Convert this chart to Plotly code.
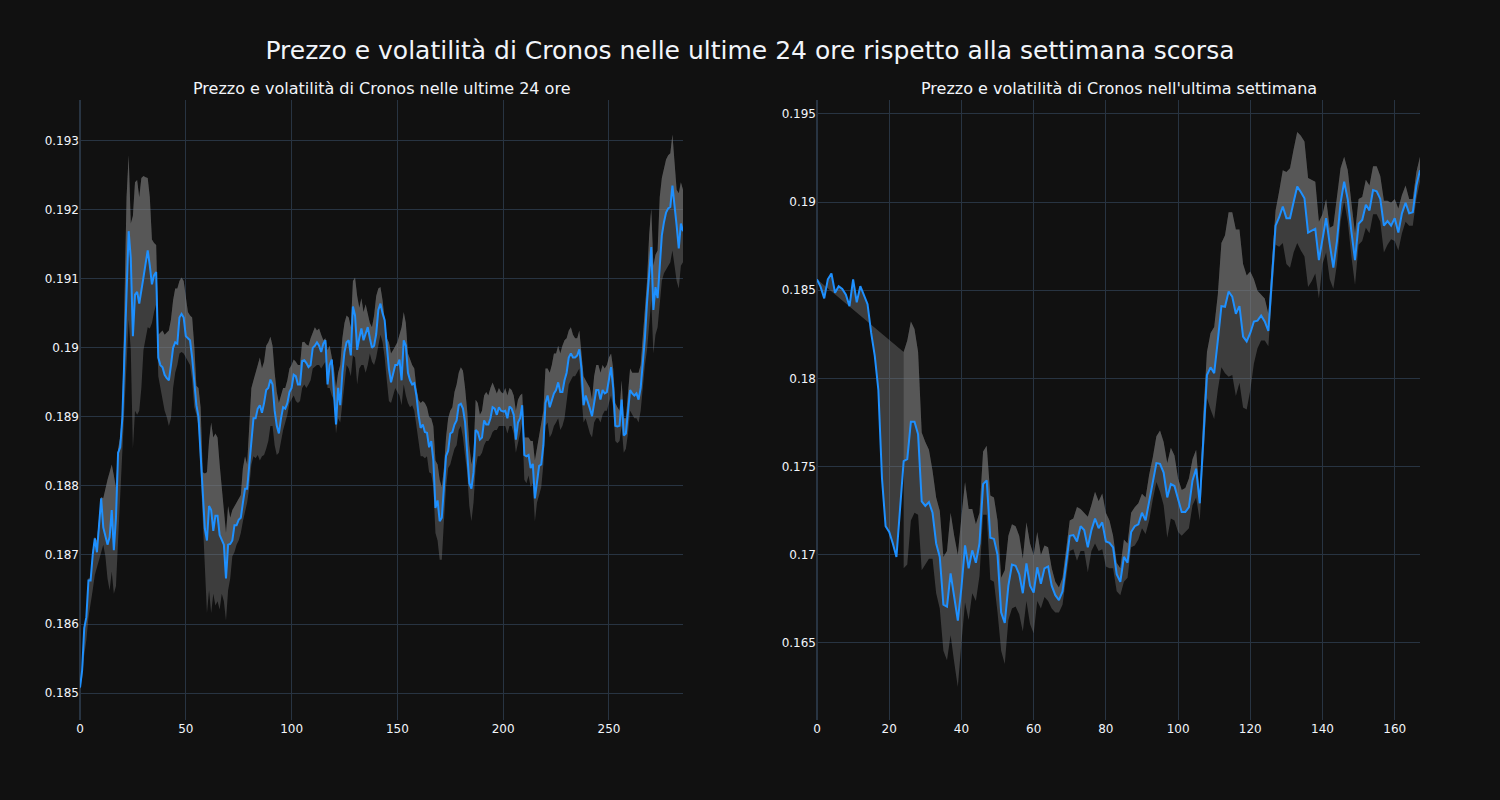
import plotly.graph_objects as go
from plotly.subplots import make_subplots

# Prezzo (ultime 24 ore, intervalli di 5 minuti) e banda di volatilita'
prezzo_24h = [
    0.18508, 0.18533, 0.18594, 0.18610, 0.18663, 0.18663, 0.18700, 0.18724, 0.18704, 0.18743,
    0.18782, 0.18740, 0.18729, 0.18715, 0.18726, 0.18765, 0.18707, 0.18754, 0.18848, 0.18856,
    0.18898, 0.18997, 0.19080, 0.19169, 0.19130, 0.19017, 0.19077, 0.19081, 0.19064, 0.19086,
    0.19102, 0.19122, 0.19141, 0.19119, 0.19092, 0.19105, 0.19110, 0.18986, 0.18975, 0.18972,
    0.18961, 0.18956, 0.18953, 0.18975, 0.19000, 0.19008, 0.19006, 0.19044, 0.19049, 0.19044,
    0.19017, 0.19014, 0.19011, 0.18986, 0.18947, 0.18917, 0.18900, 0.18848, 0.18787, 0.18738,
    0.18721, 0.18771, 0.18765, 0.18735, 0.18757, 0.18757, 0.18729, 0.18721, 0.18715, 0.18666,
    0.18715, 0.18716, 0.18721, 0.18743, 0.18743, 0.18751, 0.18754, 0.18776, 0.18796, 0.18796,
    0.18831, 0.18870, 0.18898, 0.18898, 0.18912, 0.18917, 0.18906, 0.18920, 0.18939, 0.18942,
    0.18954, 0.18947, 0.18909, 0.18887, 0.18876, 0.18898, 0.18914, 0.18912, 0.18920, 0.18936,
    0.18942, 0.18961, 0.18959, 0.18947, 0.18947, 0.18981, 0.18982, 0.18978, 0.18972, 0.18975,
    0.19000, 0.19003, 0.19008, 0.19003, 0.18994, 0.19006, 0.19011, 0.18947, 0.18975, 0.18983,
    0.18942, 0.18889, 0.18942, 0.18917, 0.18964, 0.18994, 0.19008, 0.19011, 0.18989, 0.19060,
    0.19047, 0.18997, 0.19014, 0.19028, 0.19011, 0.19019, 0.19030, 0.19014, 0.19000, 0.19003,
    0.19020, 0.19055, 0.19064, 0.19050, 0.19040, 0.19003, 0.18970, 0.18950, 0.18964, 0.18975,
    0.18975, 0.18983, 0.18953, 0.19011, 0.19003, 0.18964, 0.18953, 0.18947, 0.18949, 0.18931,
    0.18903, 0.18884, 0.18889, 0.18878, 0.18877, 0.18856, 0.18865, 0.18837, 0.18768, 0.18779,
    0.18749, 0.18754, 0.18798, 0.18843, 0.18851, 0.18876, 0.18878, 0.18889, 0.18895, 0.18917,
    0.18919, 0.18912, 0.18892, 0.18854, 0.18804, 0.18796, 0.18820, 0.18881, 0.18878, 0.18867,
    0.18870, 0.18895, 0.18889, 0.18889, 0.18898, 0.18914, 0.18912, 0.18903, 0.18914, 0.18909,
    0.18908, 0.18909, 0.18898, 0.18915, 0.18912, 0.18903, 0.18867, 0.18892, 0.18898, 0.18917,
    0.18845, 0.18843, 0.18845, 0.18826, 0.18832, 0.18782, 0.18804, 0.18829, 0.18831, 0.18859,
    0.18920, 0.18931, 0.18914, 0.18923, 0.18934, 0.18939, 0.18950, 0.18936, 0.18936, 0.18953,
    0.18964, 0.18986, 0.18992, 0.18986, 0.18986, 0.18989, 0.18998, 0.18970, 0.18917, 0.18931,
    0.18923, 0.18912, 0.18901, 0.18920, 0.18939, 0.18939, 0.18925, 0.18939, 0.18934, 0.18936,
    0.18953, 0.18972, 0.18942, 0.18887, 0.18886, 0.18887, 0.18925, 0.18873, 0.18876, 0.18906,
    0.18939, 0.18934, 0.18931, 0.18934, 0.18925, 0.18942, 0.18975, 0.19014, 0.19066, 0.19102,
    0.19146, 0.19055, 0.19088, 0.19072, 0.19119, 0.19163, 0.19182, 0.19196, 0.19202, 0.19204,
    0.19235, 0.19210, 0.19177, 0.19144, 0.19180, 0.19169,
]
banda_sup_24h = [
    0.18508, 0.18533, 0.18594, 0.18613, 0.18666, 0.18666, 0.18707, 0.18726, 0.18721, 0.18754,
    0.18784, 0.18782, 0.18798, 0.18809, 0.18820, 0.18831, 0.18815, 0.18798, 0.18854, 0.18870,
    0.18909, 0.19069, 0.19218, 0.19279, 0.19180, 0.19191, 0.19240, 0.19243, 0.19218, 0.19246,
    0.19249, 0.19247, 0.19246, 0.19218, 0.19157, 0.19152, 0.19149, 0.19019, 0.19022, 0.19025,
    0.19019, 0.19022, 0.19025, 0.19041, 0.19069, 0.19086, 0.19086, 0.19097, 0.19102, 0.19097,
    0.19072, 0.19052, 0.19047, 0.19044, 0.19003, 0.18945, 0.18942, 0.18914, 0.18820, 0.18818,
    0.18820, 0.18865, 0.18892, 0.18870, 0.18876, 0.18870, 0.18831, 0.18798, 0.18776, 0.18732,
    0.18771, 0.18754, 0.18765, 0.18771, 0.18776, 0.18782, 0.18787, 0.18826, 0.18843, 0.18831,
    0.18887, 0.18942, 0.18953, 0.18964, 0.18975, 0.18986, 0.18970, 0.18980, 0.19003, 0.19008,
    0.19016, 0.19003, 0.18964, 0.18936, 0.18920, 0.18931, 0.18942, 0.18942, 0.18953, 0.18970,
    0.18975, 0.18983, 0.18980, 0.18975, 0.18975, 0.19008, 0.19009, 0.19005, 0.19003, 0.19014,
    0.19022, 0.19030, 0.19025, 0.19028, 0.19019, 0.19011, 0.19014, 0.18997, 0.19003, 0.18986,
    0.18970, 0.18942, 0.18964, 0.18975, 0.19014, 0.19036, 0.19047, 0.19044, 0.19030, 0.19097,
    0.19102, 0.19075, 0.19058, 0.19072, 0.19052, 0.19063, 0.19047, 0.19036, 0.19030, 0.19047,
    0.19075, 0.19086, 0.19088, 0.19069, 0.19041, 0.19014, 0.19008, 0.18992, 0.18997, 0.19003,
    0.19008, 0.19019, 0.19030, 0.19052, 0.19036, 0.18992, 0.18983, 0.18975, 0.18970, 0.18942,
    0.18925, 0.18920, 0.18923, 0.18920, 0.18914, 0.18900, 0.18898, 0.18887, 0.18837, 0.18831,
    0.18809, 0.18798, 0.18826, 0.18870, 0.18898, 0.18909, 0.18914, 0.18936, 0.18947, 0.18964,
    0.18972, 0.18967, 0.18942, 0.18909, 0.18859, 0.18831, 0.18848, 0.18925, 0.18920, 0.18903,
    0.18909, 0.18931, 0.18936, 0.18931, 0.18942, 0.18950, 0.18942, 0.18934, 0.18942, 0.18936,
    0.18934, 0.18942, 0.18931, 0.18942, 0.18939, 0.18931, 0.18909, 0.18925, 0.18931, 0.18934,
    0.18870, 0.18870, 0.18870, 0.18865, 0.18865, 0.18837, 0.18854, 0.18876, 0.18887, 0.18909,
    0.18970, 0.18970, 0.18964, 0.18975, 0.18992, 0.18992, 0.19003, 0.18992, 0.19003, 0.19011,
    0.19014, 0.19025, 0.19030, 0.19019, 0.19014, 0.19014, 0.19025, 0.18986, 0.18959, 0.18953,
    0.18947, 0.18942, 0.18925, 0.18959, 0.18975, 0.18975, 0.18964, 0.18975, 0.18970, 0.18975,
    0.18986, 0.18992, 0.18970, 0.18920, 0.18914, 0.18909, 0.18953, 0.18898, 0.18898, 0.18931,
    0.18970, 0.18964, 0.18964, 0.18964, 0.18964, 0.18975, 0.19019, 0.19052, 0.19097, 0.19163,
    0.19202, 0.19119, 0.19135, 0.19141, 0.19218, 0.19246, 0.19262, 0.19273, 0.19279, 0.19282,
    0.19309, 0.19262, 0.19229, 0.19224, 0.19240, 0.19229,
]
banda_inf_24h = [
    0.18505, 0.18522, 0.18555, 0.18577, 0.18610, 0.18627, 0.18649, 0.18671, 0.18682, 0.18693,
    0.18704, 0.18715, 0.18698, 0.18666, 0.18649, 0.18676, 0.18644, 0.18655, 0.18721, 0.18782,
    0.18843, 0.18909, 0.18975, 0.19041, 0.18997, 0.18854, 0.18909, 0.18903, 0.18909, 0.18942,
    0.18997, 0.19014, 0.19030, 0.19028, 0.19036, 0.19052, 0.19063, 0.18959, 0.18942, 0.18931,
    0.18909, 0.18900, 0.18887, 0.18898, 0.18942, 0.18964, 0.18975, 0.18992, 0.18994, 0.18992,
    0.18986, 0.18980, 0.18975, 0.18953, 0.18914, 0.18903, 0.18887, 0.18820, 0.18749, 0.18666,
    0.18616, 0.18649, 0.18616, 0.18644, 0.18627, 0.18633, 0.18621, 0.18644, 0.18633, 0.18605,
    0.18649, 0.18666, 0.18698, 0.18704, 0.18715, 0.18721, 0.18732, 0.18749, 0.18765, 0.18776,
    0.18798, 0.18831, 0.18843, 0.18840, 0.18845, 0.18837, 0.18843, 0.18845, 0.18854, 0.18865,
    0.18887, 0.18887, 0.18859, 0.18845, 0.18848, 0.18865, 0.18881, 0.18892, 0.18903, 0.18920,
    0.18925, 0.18931, 0.18923, 0.18920, 0.18923, 0.18942, 0.18947, 0.18942, 0.18947, 0.18953,
    0.18970, 0.18972, 0.18975, 0.18975, 0.18970, 0.18975, 0.18980, 0.18942, 0.18942, 0.18931,
    0.18925, 0.18876, 0.18898, 0.18892, 0.18920, 0.18953, 0.18975, 0.18970, 0.18959, 0.18989,
    0.18986, 0.18947, 0.18970, 0.18975, 0.18975, 0.18964, 0.18975, 0.18992, 0.18980, 0.18975,
    0.18986, 0.19003, 0.19019, 0.19008, 0.18986, 0.18953, 0.18923, 0.18920, 0.18931, 0.18942,
    0.18936, 0.18931, 0.18917, 0.18947, 0.18931, 0.18920, 0.18914, 0.18917, 0.18909, 0.18887,
    0.18859, 0.18843, 0.18843, 0.18840, 0.18843, 0.18820, 0.18818, 0.18798, 0.18732, 0.18721,
    0.18693, 0.18693, 0.18749, 0.18798, 0.18826, 0.18831, 0.18843, 0.18854, 0.18859, 0.18881,
    0.18887, 0.18870, 0.18843, 0.18820, 0.18771, 0.18749, 0.18776, 0.18826, 0.18843, 0.18843,
    0.18848, 0.18859, 0.18865, 0.18865, 0.18870, 0.18878, 0.18881, 0.18881, 0.18887, 0.18887,
    0.18887, 0.18887, 0.18876, 0.18887, 0.18887, 0.18876, 0.18848, 0.18865, 0.18876, 0.18892,
    0.18809, 0.18804, 0.18815, 0.18798, 0.18804, 0.18749, 0.18776, 0.18787, 0.18798, 0.18831,
    0.18887, 0.18892, 0.18870, 0.18876, 0.18887, 0.18892, 0.18898, 0.18881, 0.18887, 0.18898,
    0.18920, 0.18947, 0.18953, 0.18959, 0.18959, 0.18964, 0.18970, 0.18931, 0.18892, 0.18898,
    0.18887, 0.18876, 0.18870, 0.18892, 0.18898, 0.18898, 0.18892, 0.18903, 0.18909, 0.18909,
    0.18920, 0.18931, 0.18914, 0.18865, 0.18862, 0.18865, 0.18887, 0.18848, 0.18854, 0.18876,
    0.18909, 0.18903, 0.18898, 0.18898, 0.18892, 0.18909, 0.18947, 0.18975, 0.18997, 0.19030,
    0.19069, 0.18992, 0.19019, 0.19030, 0.19063, 0.19097, 0.19108, 0.19113, 0.19119, 0.19124,
    0.19141, 0.19119, 0.19097, 0.19086, 0.19119, 0.19124,
]

# Prezzo (ultima settimana, orario) e banda di volatilita' (prime 24 ore senza dati)
prezzo_7g = [
    0.18562, 0.18519, 0.18454, 0.18562, 0.18595, 0.18486, 0.18523, 0.18508, 0.18475, 0.18410,
    0.18562, 0.18432, 0.18523, 0.18475, 0.18421, 0.18258, 0.18128, 0.17933, 0.17433, 0.17162,
    0.17129, 0.17064, 0.16988, 0.17260, 0.17531, 0.17542, 0.17755, 0.17755, 0.17683, 0.17303,
    0.17277, 0.17299, 0.17238, 0.17064, 0.16988, 0.16717, 0.16706, 0.16895, 0.16760, 0.16626,
    0.16814, 0.17053, 0.16923, 0.17025, 0.16955, 0.17064, 0.17401, 0.17422, 0.17097, 0.17090,
    0.16999, 0.16673, 0.16613, 0.16825, 0.16945, 0.16938, 0.16890, 0.16782, 0.16951, 0.16825,
    0.16786, 0.16929, 0.16836, 0.16923, 0.16934, 0.16825, 0.16771, 0.16743, 0.16792, 0.16955,
    0.17108, 0.17112, 0.17075, 0.17162, 0.17140, 0.17042, 0.17140, 0.17205, 0.17151, 0.17184,
    0.17075, 0.17068, 0.17042, 0.16890, 0.16847, 0.16988, 0.16955, 0.17129, 0.17162, 0.17173,
    0.17238, 0.17195, 0.17303, 0.17422, 0.17520, 0.17516, 0.17466, 0.17325, 0.17401, 0.17390,
    0.17314, 0.17242, 0.17242, 0.17270, 0.17422, 0.17488, 0.17292, 0.17650, 0.18019, 0.18063,
    0.18030, 0.18215, 0.18410, 0.18406, 0.18493, 0.18464, 0.18367, 0.18410, 0.18237, 0.18210,
    0.18258, 0.18323, 0.18328, 0.18356, 0.18323, 0.18269, 0.18562, 0.18866, 0.18914, 0.18975,
    0.18909, 0.18909, 0.19001, 0.19088, 0.19057, 0.19022, 0.18827, 0.18836, 0.18849, 0.18671,
    0.18790, 0.18909, 0.18762, 0.18628, 0.18779, 0.18996, 0.19116, 0.19014, 0.18833, 0.18671,
    0.18877, 0.18899, 0.18985, 0.18953, 0.19068, 0.19061, 0.19018, 0.18866, 0.18892, 0.18866,
    0.18909, 0.18827, 0.18936, 0.18996, 0.18936, 0.18942, 0.19094, 0.19181,
]
banda_sup_7g = [None] * 24 + [
    0.18150, 0.18215, 0.18323, 0.18280, 0.18150, 0.17694,
    0.17639, 0.17596, 0.17477, 0.17325, 0.17249, 0.16988, 0.17021, 0.17238, 0.17108, 0.16999,
    0.17216, 0.17412, 0.17260, 0.17260, 0.17173, 0.17238, 0.17585, 0.17618, 0.17336, 0.17325,
    0.17195, 0.16869, 0.16912, 0.17108, 0.17173, 0.17162, 0.17108, 0.16977, 0.17184, 0.17064,
    0.16999, 0.17129, 0.16999, 0.17053, 0.17042, 0.16923, 0.16847, 0.16815, 0.16869, 0.17042,
    0.17195, 0.17205, 0.17271, 0.17260, 0.17238, 0.17216, 0.17282, 0.17357, 0.17303, 0.17347,
    0.17238, 0.17195, 0.17108, 0.16955, 0.16923, 0.17086, 0.17064, 0.17238, 0.17270, 0.17292,
    0.17346, 0.17325, 0.17455, 0.17553, 0.17672, 0.17705, 0.17639, 0.17520, 0.17607, 0.17563,
    0.17433, 0.17368, 0.17379, 0.17433, 0.17542, 0.17596, 0.17325, 0.17802, 0.18150, 0.18258,
    0.18291, 0.18475, 0.18768, 0.18812, 0.18942, 0.18942, 0.18844, 0.18844, 0.18649, 0.18584,
    0.18606, 0.18562, 0.18497, 0.18475, 0.18453, 0.18367, 0.18671, 0.18953, 0.19061, 0.19181,
    0.19170, 0.19192, 0.19300, 0.19398, 0.19376, 0.19344, 0.19137, 0.19127, 0.19116, 0.18888,
    0.18931, 0.19018, 0.18855, 0.18866, 0.19040, 0.19192, 0.19257, 0.19181, 0.18996, 0.18823,
    0.19018, 0.19029, 0.19127, 0.19094, 0.19203, 0.19203, 0.19148, 0.19007, 0.19007, 0.18996,
    0.19018, 0.18964, 0.19040, 0.19094, 0.19018, 0.19018, 0.19170, 0.19257,
]
banda_inf_7g = [None] * 24 + [
    0.16923, 0.16945, 0.17194, 0.17238, 0.17227, 0.16912,
    0.16945, 0.16977, 0.16977, 0.16782, 0.16695, 0.16456, 0.16402, 0.16543, 0.16391, 0.16250,
    0.16500, 0.16730, 0.16630, 0.16782, 0.16738, 0.16880, 0.17227, 0.17227, 0.16858, 0.16847,
    0.16673, 0.16456, 0.16380, 0.16630, 0.16695, 0.16706, 0.16662, 0.16565, 0.16738, 0.16608,
    0.16554, 0.16738, 0.16695, 0.16760, 0.16738, 0.16695, 0.16673, 0.16673, 0.16717, 0.16869,
    0.17021, 0.17032, 0.16966, 0.17021, 0.17021, 0.16901, 0.17021, 0.17064, 0.17021, 0.17032,
    0.16934, 0.16923, 0.16923, 0.16793, 0.16771, 0.16847, 0.16869, 0.17042, 0.17053, 0.17086,
    0.17151, 0.17118, 0.17194, 0.17314, 0.17412, 0.17357, 0.17281, 0.17097, 0.17205, 0.17194,
    0.17129, 0.17108, 0.17129, 0.17151, 0.17281, 0.17325, 0.17194, 0.17520, 0.17889, 0.17824,
    0.17770, 0.17933, 0.18063, 0.18030, 0.18009, 0.18019, 0.17900, 0.17976, 0.17835, 0.17824,
    0.17933, 0.18085, 0.18171, 0.18215, 0.18215, 0.18182, 0.18454, 0.18758, 0.18747, 0.18768,
    0.18649, 0.18627, 0.18714, 0.18768, 0.18725, 0.18692, 0.18519, 0.18551, 0.18595, 0.18454,
    0.18649, 0.18714, 0.18562, 0.18508, 0.18649, 0.18888, 0.19007, 0.18888, 0.18692, 0.18530,
    0.18758, 0.18779, 0.18855, 0.18823, 0.18931, 0.18931, 0.18888, 0.18714, 0.18758, 0.18790,
    0.18779, 0.18725, 0.18823, 0.18888, 0.18866, 0.18866, 0.19018, 0.19116,
]

TITOLO = "Prezzo e volatilità di Cronos nelle ultime 24 ore rispetto alla settimana scorsa"
SOTTOTITOLI = ("Prezzo e volatilità di Cronos nelle ultime 24 ore",
               "Prezzo e volatilità di Cronos nell'ultima settimana")

LINE_COLOR = "#1E90FF"
BAND_COLOR = "rgba(128,128,128,0.4)"

fig = make_subplots(rows=1, cols=2, subplot_titles=SOTTOTITOLI, horizontal_spacing=0.1)

pannelli = [
    (prezzo_24h, banda_sup_24h, banda_inf_24h),
    (prezzo_7g, banda_sup_7g, banda_inf_7g),
]

for col, (prezzo, sup, inf) in enumerate(pannelli, start=1):
    x = list(range(len(prezzo)))
    # base for the first fill (price line, invisible)
    fig.add_trace(go.Scatter(x=x, y=prezzo, mode="lines", line=dict(width=0),
                             hoverinfo="skip", showlegend=False), row=1, col=col)
    # upper band: fills between price and upper edge
    fig.add_trace(go.Scatter(x=x, y=sup, mode="lines", line=dict(width=0),
                             fill="tonexty", fillcolor=BAND_COLOR,
                             name="Banda superiore", showlegend=False), row=1, col=col)
    # lower band: fills between upper and lower edge
    fig.add_trace(go.Scatter(x=x, y=inf, mode="lines", line=dict(width=0),
                             fill="tonexty", fillcolor=BAND_COLOR,
                             name="Banda inferiore", showlegend=False), row=1, col=col)
    # visible price line on top
    fig.add_trace(go.Scatter(x=x, y=prezzo, mode="lines",
                             line=dict(color=LINE_COLOR, width=2),
                             name="Prezzo", showlegend=False), row=1, col=col)

fig.update_layout(
    template="plotly_dark",
    width=1500,
    height=800,
    font=dict(family="DejaVu Sans", size=12),
    title=dict(text=TITOLO, x=0.5, xanchor="center", y=0.9375, yanchor="middle",
               font=dict(size=25)),
    margin=dict(l=80, r=80, t=100, b=80),
    showlegend=False,
)
fig.update_annotations(font=dict(size=16))

fig.update_xaxes(range=[0, len(prezzo_24h) - 1], row=1, col=1)
fig.update_xaxes(range=[0, len(prezzo_7g) - 1], row=1, col=2)
fig.update_yaxes(range=[0.18461, 0.19359], row=1, col=1)
fig.update_yaxes(range=[0.16063, 0.19579], row=1, col=2)

# page without the default body margin, so the figure fills the window
fig.write_html("out.html", config={"displayModeBar": False},
               post_script="document.body.style.margin = '0';")
